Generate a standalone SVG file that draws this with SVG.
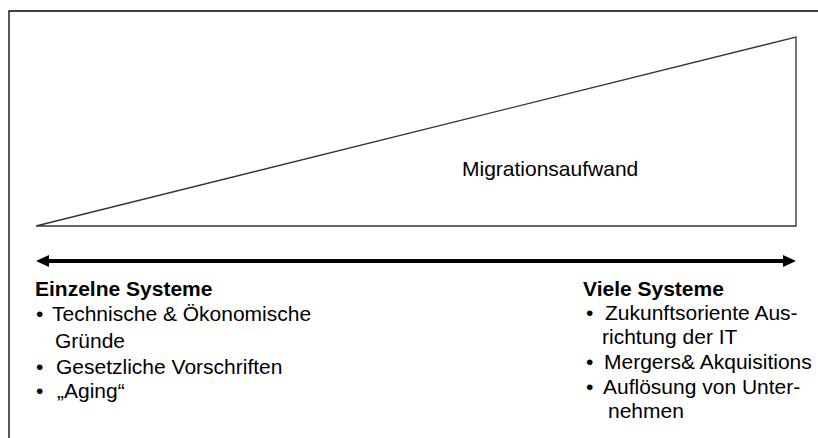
<svg xmlns="http://www.w3.org/2000/svg" width="818" height="438" viewBox="0 0 818 438">
  <style>
    .frame { fill: none; stroke: #000; stroke-width: 1.3; }
    .wedge { fill: #fff; stroke: #333; stroke-width: 1.3; }
    .axis { stroke: #000; stroke-width: 4; }
    .head { fill: #000; }
    .txt { font-family: "Liberation Sans", Arial, sans-serif; font-size: 21px; fill: #000; }
    .title { font-weight: bold; }
  </style>
  <rect width="818" height="438" fill="#fff"/>
  <!-- page frame (top and left edge) -->
  <path class="frame" d="M9 438 V11 H818"/>

  <g id="aufwand">
    <polygon class="wedge" points="36,226 796,37 796,226"/>
    <text class="txt" x="462" y="176">Migrationsaufwand</text>
  </g>

  <g id="connectors">
    <line class="axis" x1="46" y1="261" x2="786" y2="261"/>
    <polygon class="head" points="36,261 49,255 49,267"/>
    <polygon class="head" points="796,261 783,255 783,267"/>
  </g>

  <g id="einzelne-systeme">
    <text class="txt title" x="35" y="296">Einzelne Systeme</text>
    <text class="txt" x="36" y="321">•</text>
    <text class="txt" x="52" y="321">Technische &amp; Ökonomische</text>
    <text class="txt" x="55" y="348">Gründe</text>
    <text class="txt" x="36" y="374">•</text>
    <text class="txt" x="56" y="374">Gesetzliche Vorschriften</text>
    <text class="txt" x="36" y="398">•</text>
    <text class="txt" x="57" y="398">„Aging“</text>
  </g>

  <g id="viele-systeme">
    <text class="txt title" x="583" y="296">Viele Systeme</text>
    <text class="txt" x="586" y="320">•</text>
    <text class="txt" x="605" y="320">Zukunftsoriente Aus-</text>
    <text class="txt" x="602" y="344">richtung der IT</text>
    <text class="txt" x="586" y="369">•</text>
    <text class="txt" x="604" y="369">Mergers&amp; Akquisitions</text>
    <text class="txt" x="586" y="394">•</text>
    <text class="txt" x="603" y="394">Auflösung von Unter-</text>
    <text class="txt" x="608" y="418">nehmen</text>
  </g>
</svg>
